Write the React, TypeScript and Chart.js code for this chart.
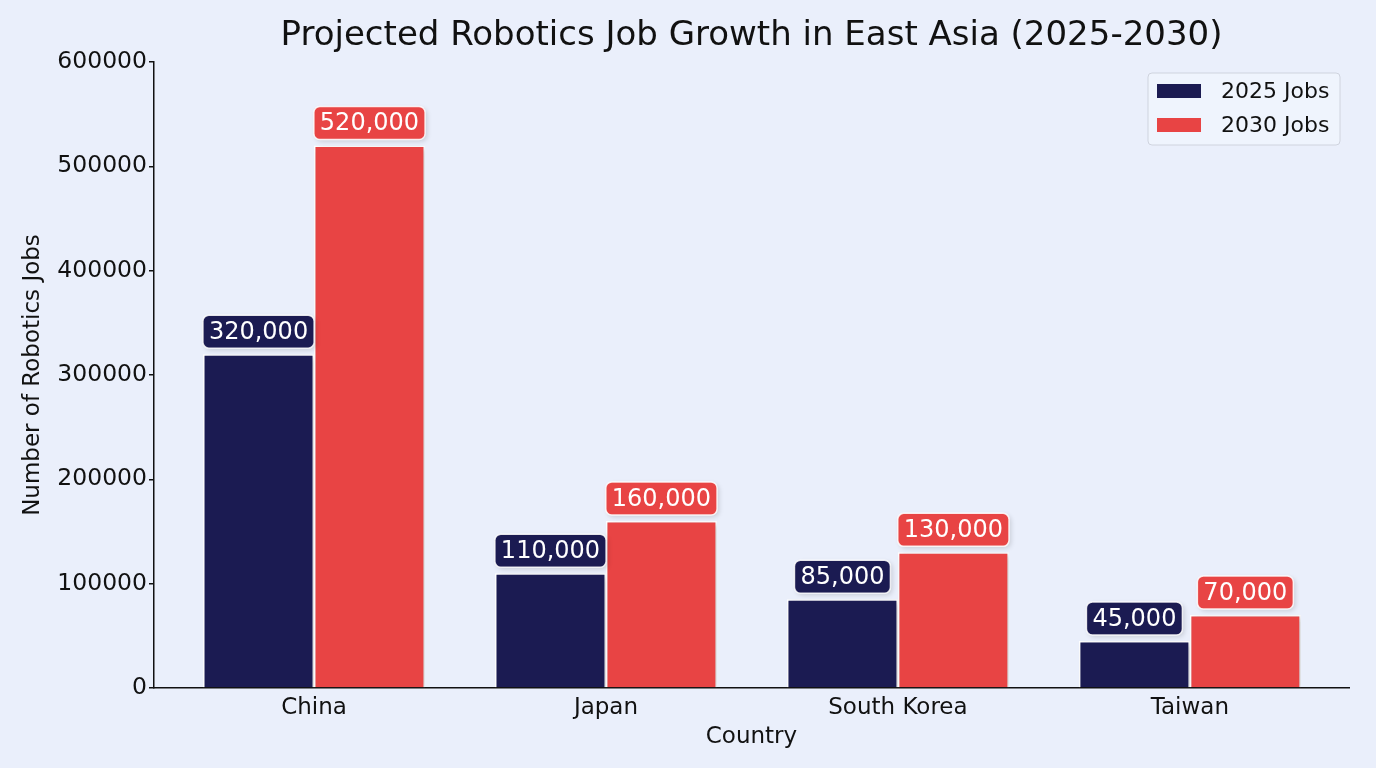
import { useEffect, useRef } from "react"
import { Chart, registerables } from "chart.js"

Chart.register(...registerables)

const countries = ["China", "Japan", "South Korea", "Taiwan"]
const jobs2025 = [320000, 110000, 85000, 45000]
const jobs2030 = [520000, 160000, 130000, 70000]
const seriesLabels = ["2025 Jobs", "2030 Jobs"]
const seriesColors = ["#1b1b52", "#e84444"]
const chartTitle = "Projected Robotics Job Growth in East Asia (2025-2030)"

const FONT = "'DejaVu Sans', sans-serif"

// shadows under bars + value boxes on top
const barExtras = {
  id: "barExtras",
  beforeDatasetsDraw(chart: any) {
    const ctx = chart.ctx
    ctx.save()
    ctx.shadowColor = "rgba(0,0,0,0.18)"
    ctx.shadowBlur = 6
    ctx.shadowOffsetX = 3
    ctx.shadowOffsetY = 2
  },
  afterDatasetsDraw(chart: any) {
    const ctx = chart.ctx
    ctx.restore()
    ctx.save()
    ctx.font = `24px ${FONT}`
    ctx.textAlign = "center"
    ctx.textBaseline = "middle"
    chart.data.datasets.forEach((ds: any, i: number) => {
      const meta = chart.getDatasetMeta(i)
      meta.data.forEach((bar: any, j: number) => {
        const text = ds.data[j].y.toLocaleString("en-US")
        const w = ctx.measureText(text).width + 12
        const h = 33
        const x = bar.x - w / 2
        const y = bar.y - 6 - h
        ctx.save()
        ctx.shadowColor = "rgba(0,0,0,0.15)"
        ctx.shadowBlur = 5
        ctx.shadowOffsetX = 2
        ctx.shadowOffsetY = 2
        ctx.beginPath()
        ctx.roundRect(x, y, w, h, 6)
        ctx.fillStyle = seriesColors[i]
        ctx.fill()
        ctx.restore()
        ctx.lineWidth = 1.5
        ctx.strokeStyle = "rgba(255,255,255,0.85)"
        ctx.beginPath()
        ctx.roundRect(x, y, w, h, 6)
        ctx.stroke()
        ctx.fillStyle = "#ffffff"
        ctx.fillText(text, bar.x, y + h / 2 + 1)
      })
    })
    ctx.restore()
  },
}

// title centred over the plot area, legend box inside the plot
const overlay = {
  id: "overlay",
  afterDraw(chart: any) {
    const ctx = chart.ctx
    const area = chart.chartArea
    ctx.save()
    ctx.font = `34px ${FONT}`
    ctx.fillStyle = "#111"
    ctx.textAlign = "center"
    ctx.textBaseline = "middle"
    ctx.fillText(chartTitle, (area.left + area.right) / 2, 36)

    const bx = area.right - 201
    const by = area.top + 11
    const bw = 192
    const bh = 72
    ctx.beginPath()
    ctx.roundRect(bx, by, bw, bh, 4)
    ctx.fillStyle = "rgba(240,244,253,0.9)"
    ctx.fill()
    ctx.strokeStyle = "#cfd3de"
    ctx.lineWidth = 1
    ctx.stroke()
    ctx.font = `22px ${FONT}`
    ctx.textAlign = "left"
    seriesLabels.forEach((label, i) => {
      const cy = by + 18 + i * 34
      ctx.fillStyle = seriesColors[i]
      ctx.fillRect(bx + 9, cy - 7, 44, 14)
      ctx.fillStyle = "#111"
      ctx.fillText(label, bx + 73, cy + 1)
    })
    ctx.restore()
  },
}

export default function App() {
  const chartRef = useRef<HTMLCanvasElement>(null)
  const chartInstance = useRef<Chart | null>(null)

  useEffect(() => {
    document.body.style.margin = "0"
    if (!chartRef.current) return
    if (chartInstance.current) chartInstance.current.destroy()
    const ctx = chartRef.current.getContext("2d")
    if (!ctx) return

    chartInstance.current = new Chart(ctx, {
      type: "bar",
      data: {
        datasets: [jobs2025, jobs2030].map((vals, i) => ({
          label: seriesLabels[i],
          data: vals.map((v, j) => ({ x: j, y: v })),
          backgroundColor: seriesColors[i],
          borderColor: "#ffffff",
          borderWidth: 1.5,
          categoryPercentage: 0.76,
          barPercentage: 1,
        })),
      },
      options: {
        animation: false,
        responsive: false,
        layout: { padding: { top: 62, right: 27, bottom: 0, left: 0 } },
        plugins: {
          legend: { display: false },
          tooltip: { enabled: false },
          title: { display: false },
        },
        scales: {
          x: {
            type: "linear",
            offset: false,
            min: -0.548,
            max: 3.545,
            grid: { display: false, drawTicks: false, offset: false },
            border: { display: true, color: "#111", width: 1.5 },
            ticks: {
              stepSize: 1,
              includeBounds: false,
              autoSkip: false,
              maxRotation: 0,
              padding: 6,
              color: "#111",
              font: { family: FONT, size: 23 },
              callback: (v: any) => (Number.isInteger(v) ? countries[v] ?? "" : ""),
            },
            title: {
              display: true,
              text: "Country",
              color: "#111",
              font: { family: FONT, size: 23 },
              padding: { top: 0, bottom: 17 },
            },
            afterFit: (s: any) => {
              s.height = 80
            },
          },
          y: {
            min: 0,
            max: 600000,
            grid: { display: true, drawOnChartArea: false, drawTicks: true, tickLength: 5, color: "#111", lineWidth: 1.5 },
            border: { display: true, color: "#111", width: 1.5 },
            ticks: {
              stepSize: 100000,
              padding: 2,
              color: "#111",
              font: { family: FONT, size: 23.5 },
              callback: (v: any) => String(v),
            },
            title: {
              display: true,
              text: "Number of Robotics Jobs",
              color: "#111",
              font: { family: FONT, size: 23 },
              padding: { top: 19, bottom: 0 },
            },
            afterFit: (s: any) => {
              s.width = 154
            },
          },
        },
      } as any,
      plugins: [barExtras, overlay],
    })

    return () => {
      if (chartInstance.current) {
        chartInstance.current.destroy()
        chartInstance.current = null
      }
    }
  }, [])

  return (
    <div style={{ width: 1376, height: 768, background: "#eaeffb" }}>
      <canvas ref={chartRef} width={1376} height={768} />
    </div>
  )
}
